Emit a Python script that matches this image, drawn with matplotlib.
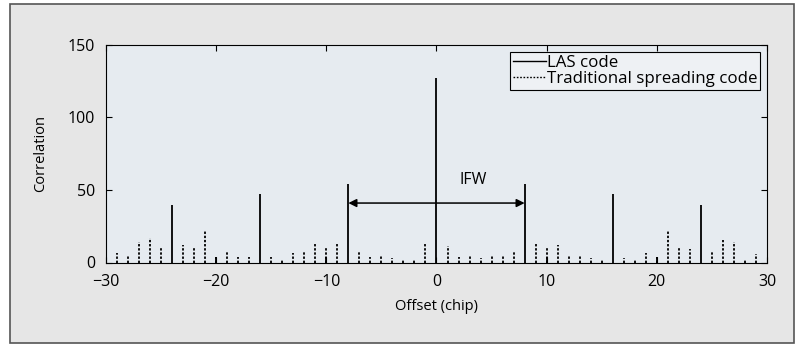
import matplotlib.pyplot as plt
from matplotlib.patches import Rectangle
from matplotlib.lines import Line2D

plt.rcParams['font.family'] = ['Open Sans', 'DejaVu Sans']

# LAS code correlation peaks
las_offset = [-24, -20, -16, -10, -8, 0, 8, 10, 16, 20, 24]
las_value = [40, 4, 47, 4, 54, 127, 54, 4, 47, 4, 40]

# traditional spreading code (offsets at multiples of 8 hidden under LAS)
trad_offset = [-29, -28, -27, -26, -25, -23, -22, -21, -20, -19, -18, -17,
               -15, -14, -13, -12, -11, -10, -9, -7, -6, -5, -4, -3, -2, -1,
               1, 2, 3, 4, 5, 6, 7, 9, 10, 11, 12, 13, 14, 15,
               17, 18, 19, 20, 21, 22, 23, 25, 26, 27, 28, 29]
trad_value = [6.6, 4.4, 14.2, 17, 10.8, 12, 10, 21.8, 3.9, 8, 4, 4,
              4, 2, 6.6, 7.4, 13.5, 10.8, 13.5, 8, 3.6, 4.4, 2.8, 2, 2.3, 13.5,
              11.3, 3.6, 4.4, 3, 5.3, 4.4, 7, 12.6, 10.8, 12, 4.8, 5.3, 3, 2,
              3, 2.3, 6.4, 3.6, 21.8, 10.6, 9.4, 8.2, 15.4, 14, 2.3, 6]

fig = plt.figure(figsize=(8.03, 3.45), dpi=100)
fig.patch.set_facecolor('white')
fig.patches.append(Rectangle((10/803, 2/345), 784/803, 339/345, transform=fig.transFigure,
                             facecolor='#e6e6e6', edgecolor='#555555', linewidth=1.2, zorder=-5))

ax = fig.add_axes([106/803, 82.5/345, 661/803, 217.5/345])
ax.set_facecolor('#e6ebf0')

dots = (0, (1.3, 1.0))
ax.vlines(trad_offset, 0, trad_value, colors='black', linewidth=1.3, linestyles=dots)
ax.vlines(las_offset, 0, las_value, colors='black', linewidth=1.3)

ax.annotate('', xy=(-8, 41), xytext=(8, 41),
            arrowprops=dict(arrowstyle='<|-|>', color='black', lw=1.1,
                            mutation_scale=12, shrinkA=0, shrinkB=0))
ax.text(3.3, 57, 'IFW', ha='center', va='center', fontsize=11.5)

ax.set_xlim(-30, 30)
ax.set_ylim(0, 150)
ax.set_xticks([-30, -20, -10, 0, 10, 20, 30])
ax.set_yticks([0, 50, 100, 150])
ax.tick_params(direction='in', top=True, right=True, labelsize=11.5, length=4, pad=8)
ax.set_xlabel('Offset (chip)', fontsize=10.5, labelpad=7)
ax.set_ylabel('Correlation', fontsize=10.5, labelpad=14)

handles = [Line2D([], [], color='black', linewidth=1.0),
           Line2D([], [], color='black', linewidth=1.0, linestyle=(0, (1.2, 1.2)))]
leg = ax.legend(handles, ['LAS code', 'Traditional spreading code'],
                loc='upper right', bbox_to_anchor=(0.99, 0.97),
                fontsize=12.2, handlelength=1.9, handletextpad=0.05, borderpad=0.2,
                labelspacing=0.0, frameon=True, fancybox=False, borderaxespad=0)
leg.get_frame().set_edgecolor('black')
leg.get_frame().set_facecolor('#eef1f4')
leg.get_frame().set_alpha(1)
leg.get_frame().set_linewidth(0.8)

fig.savefig('out.png', dpi=100)
